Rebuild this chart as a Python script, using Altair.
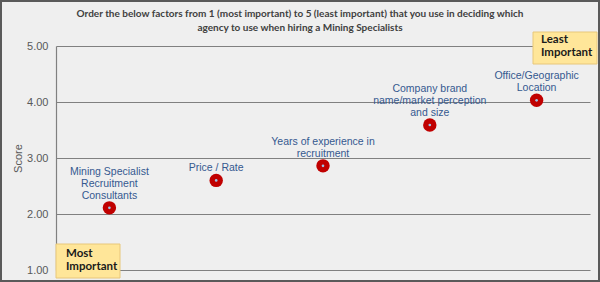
import altair as alt
import pandas as pd

categories = [
    "Mining Specialist Recruitment Consultants",
    "Price / Rate",
    "Years of experience in recruitment",
    "Company brand name/market perception and size",
    "Office/Geographic Location",
]
label_lines = [
    ["Mining Specialist", "Recruitment", "Consultants"],
    ["Price / Rate"],
    ["Years of experience in", "recruitment"],
    ["Company  brand", "name/market perception", "and size"],
    ["Office/Geographic", "Location"],
]
scores = [2.11, 2.60, 2.86, 3.59, 4.03]
y_ticks = [1, 2, 3, 4, 5]

title_lines = [
    "Order the below factors from 1 (most important) to 5 (least important) that you use in  deciding which",
    "agency to use when hiring a Mining Specialists",
]
axis_title = "Score"
most_text = ["Most", "Important"]
least_text = ["Least", "Important"]

df = pd.DataFrame({"factor": categories, "score": scores})

# one row per label line, with k = number of lines below it
rows = []
for cat, sc, lines in zip(categories, scores, label_lines):
    n = len(lines)
    for i, ln in enumerate(lines):
        rows.append({"factor": cat, "score": sc, "line": ln, "k": n - 1 - i})
lab_df = pd.DataFrame(rows)

W, H = 534, 224
BG = "#EFEFEF"

x_enc = alt.X("factor:N", sort=categories,
              scale=alt.Scale(type="point", padding=0.5),
              axis=None)
y_scale = alt.Scale(domain=[1, 5], nice=False, zero=False)
y_enc = alt.Y("score:Q", scale=y_scale,
              axis=alt.Axis(values=y_ticks, format=".2f", title=axis_title,
                            grid=True, gridColor="#808080", gridWidth=1.2,
                            domain=True, domainColor="#808080", domainWidth=1.2,
                            ticks=False, labelPadding=8,
                            labelFont="Liberation Sans", labelFontSize=11,
                            labelColor="#595959",
                            titleFont="Liberation Sans", titleFontSize=11,
                            titleFontWeight="normal", titleColor="#595959",
                            titlePadding=3))

base = alt.Chart(df)
points = base.mark_circle(size=180, color="#C00000", opacity=1).encode(x=x_enc, y=y_enc)
centers = base.mark_circle(size=7, color="#9DC3E6", opacity=1).encode(x=x_enc, y="score:Q")

label_layers = []
for k in range(3):
    label_layers.append(
        alt.Chart(lab_df).transform_filter(alt.datum.k == k).mark_text(
            baseline="middle", align="center", dy=-12 - 12 * k,
            font="Liberation Sans", fontSize=10.5, color="#35598F",
        ).encode(x=x_enc, y="score:Q", text="line:N")
    )

one = pd.DataFrame({"a": [0]})
frame = alt.Chart(one).mark_rect(
    fill=None, stroke="#5A5A5A", strokeWidth=2, clip=False
).encode(x=alt.value(-55), x2=alt.value(543), y=alt.value(-45), y2=alt.value(235))

title_style = dict(align="center", baseline="middle", font="Lato", fontSize=10,
                   fontWeight="bold", color="#404040", clip=False)
title1 = alt.Chart(pd.DataFrame({"t": [title_lines[0]]})).mark_text(**title_style).encode(
    x=alt.value(244), y=alt.value(-32), text="t:N")
title2 = alt.Chart(pd.DataFrame({"t": [title_lines[1]]})).mark_text(**title_style).encode(
    x=alt.value(244), y=alt.value(-18), text="t:N")

box_style = dict(fill="#FFE699", stroke="#E8C77A", strokeWidth=1, clip=False)
most_box = alt.Chart(one).mark_rect(**box_style).encode(
    x=alt.value(0), x2=alt.value(64), y=alt.value(198), y2=alt.value(232))
least_box = alt.Chart(one).mark_rect(**box_style).encode(
    x=alt.value(477), x2=alt.value(541), y=alt.value(-14), y2=alt.value(18))
txt_style = dict(align="left", baseline="middle", font="Lato",
                 fontSize=11.5, fontWeight="bold", color="#1A1A1A", clip=False)
box_texts = []
for lines, x0, y0 in [(most_text, 10, 208), (least_text, 485, -6)]:
    for i, ln in enumerate(lines):
        box_texts.append(
            alt.Chart(pd.DataFrame({"t": [ln]})).mark_text(**txt_style).encode(
                x=alt.value(x0), y=alt.value(y0 + 13 * i), text="t:N"))

chart = alt.layer(points, centers, *label_layers, most_box, least_box, *box_texts,
                  title1, title2, frame).properties(
    width=W, height=H,
    autosize=alt.AutoSizeParams(type="none"),
    padding={"left": 56, "top": 46, "right": 10, "bottom": 12},
    background=BG,
).configure_view(stroke=None)

chart.save("out.html", embed_options={"renderer": "svg", "actions": False})
